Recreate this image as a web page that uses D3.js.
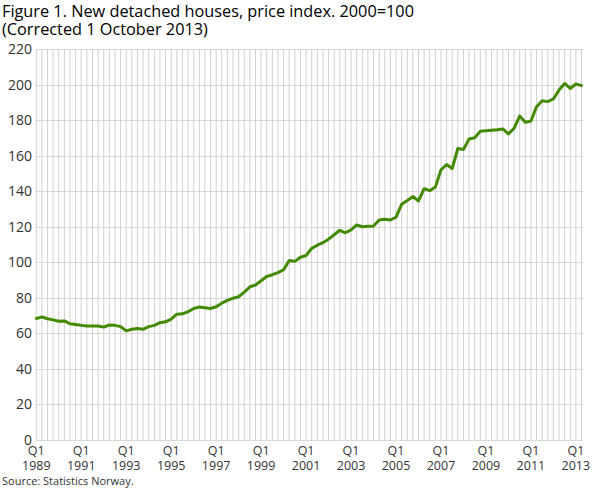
<!DOCTYPE html>
<html>
<head>
<meta charset="utf-8">
<script src="https://cdn.jsdelivr.net/npm/d3@7"></script>
<style>
  body { margin: 0; background: #fff; }
  svg { display: block; font-family: "Open Sans", sans-serif; }
</style>
</head>
<body>
<svg id="chart" width="610" height="488"></svg>
<script>
// quarterly price index, 1989Q1 - 2013Q2
var years = d3.range(1989, 2014);
var quarters = ['Q1', 'Q2', 'Q3', 'Q4'];
var values = [
  68.4, 69.2, 68.2, 67.6,
  66.8, 67.0, 65.4, 65.0,
  64.5, 64.1, 64.1, 64.1,
  63.5, 64.7, 64.5, 63.8,
  61.4, 62.3, 62.7, 62.3,
  63.8, 64.5, 66.0, 66.5,
  68.0, 70.8, 71.0, 72.2,
  74.0, 74.8, 74.4, 74.0,
  75.0, 77.0, 78.6, 79.8,
  80.6, 83.2, 86.2, 87.2,
  89.6, 92.0, 93.0, 94.2,
  95.8, 101.0, 100.5, 102.8,
  103.8, 107.8, 109.6, 111.0,
  113.0, 115.5, 118.0, 116.6,
  118.2, 121.0, 120.0, 120.2,
  120.4, 123.8, 124.2, 123.8,
  125.4, 132.6, 134.7, 137.0,
  134.5, 141.4, 140.3, 142.3,
  152.0, 155.0, 152.8, 164.0,
  163.5, 169.4, 170.1, 173.7,
  174.0, 174.3, 174.6, 175.0,
  172.2, 175.4, 182.3, 178.8,
  179.5, 187.5, 190.9, 190.4,
  191.9, 196.9, 200.6, 197.8,
  200.3, 199.4
];
var yTicks = d3.range(0, 221, 20);
var labelStep = 8;

var title1 = 'Figure 1. New detached houses, price index. 2000=100';
var title2 = '(Corrected 1 October 2013)';
var source = 'Source: Statistics Norway.';

// category list built from years x quarters
var cats = [];
years.forEach(function (y) {
  quarters.forEach(function (q) { cats.push({ q: q, y: y }); });
});
cats = cats.slice(0, values.length);

var svg = d3.select('#chart');

var x = d3.scaleLinear().domain([0, values.length - 1]).range([36.3, 581.5]);
var y = d3.scaleLinear().domain([0, 220]).range([440, 49]);

// horizontal grid
svg.append('g')
  .selectAll('line')
  .data(yTicks)
  .enter()
  .append('line')
  .attr('x1', 36).attr('x2', 583)
  .attr('y1', function (d) { return Math.round(y(d)) + 0.5; })
  .attr('y2', function (d) { return Math.round(y(d)) + 0.5; })
  .attr('stroke', '#d9d9d9');

// vertical grid, one per quarter
svg.append('g')
  .selectAll('line')
  .data(values)
  .enter()
  .append('line')
  .attr('x1', function (d, i) { return x(i); })
  .attr('x2', function (d, i) { return x(i); })
  .attr('y1', y(220)).attr('y2', y(0))
  .attr('stroke', '#d0d0d0');

// y labels
svg.append('g')
  .selectAll('text')
  .data(yTicks)
  .enter()
  .append('text')
  .attr('x', 32)
  .attr('y', function (d) { return y(d) + 5; })
  .attr('text-anchor', 'end')
  .attr('font-size', 14)
  .attr('fill', '#333')
  .text(function (d) { return d; });

// x labels, two lines
var xl = svg.append('g')
  .selectAll('text')
  .data(cats.filter(function (d, i) { return i % labelStep === 0; }))
  .enter()
  .append('text')
  .attr('text-anchor', 'middle')
  .attr('font-size', 12.5)
  .attr('fill', '#333');
xl.append('tspan')
  .attr('x', function (d) { return x(cats.indexOf(d)); })
  .attr('y', 455)
  .text(function (d) { return d.q; });
xl.append('tspan')
  .attr('x', function (d) { return x(cats.indexOf(d)); })
  .attr('y', 470)
  .text(function (d) { return d.y; });

// the line
var line = d3.line()
  .x(function (d, i) { return x(i); })
  .y(function (d) { return y(d); });

svg.append('path')
  .datum(values)
  .attr('d', line)
  .attr('fill', 'none')
  .attr('stroke', '#438a00')
  .attr('stroke-width', 3)
  .attr('stroke-linejoin', 'round')
  .attr('stroke-linecap', 'round');

// titles
svg.append('text').attr('x', 2).attr('y', 17)
  .attr('font-size', 16.3).attr('fill', '#000').text(title1);
svg.append('text').attr('x', 2).attr('y', 35)
  .attr('font-size', 16.3).attr('fill', '#000').text(title2);
svg.append('text').attr('x', 2).attr('y', 485)
  .attr('font-size', 11).attr('fill', '#333').text(source);
</script>
</body>
</html>
